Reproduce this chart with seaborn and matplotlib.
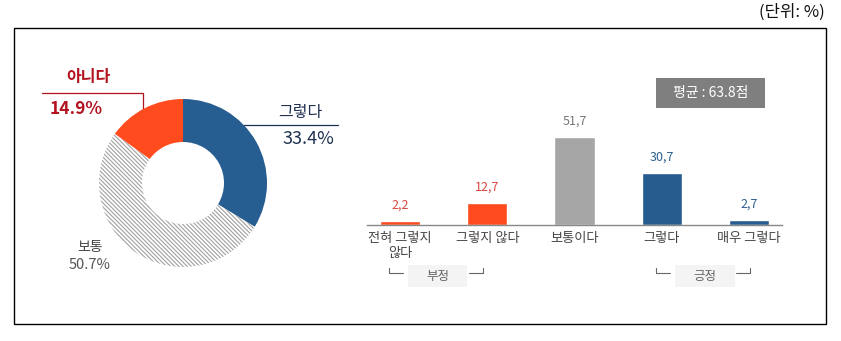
import matplotlib
matplotlib.use("Agg")
import matplotlib.pyplot as plt
from matplotlib.patches import Rectangle
import seaborn as sns
import pandas as pd

# ---- data ----
pie_labels = ["그렇다", "보통", "아니다"]
pie_values = [33.4, 50.7, 14.9]
pie_colors = ["#275e92", "#ffffff", "#ff4b1e"]

bar_categories = ["전혀 그렇지\n않다", "그렇지 않다", "보통이다", "그렇다", "매우 그렇다"]
bar_values = [2.2, 12.7, 51.7, 30.7, 2.7]
bar_colors = ["#ff4b1e", "#ff4b1e", "#a6a6a6", "#265d8e", "#265d8e"]
value_colors = ["#d9483e", "#d9483e", "#777777", "#2c5f8f", "#2c5f8f"]
group_labels = ["부정", "긍정"]
mean_text = "평균 : 63.8점"
unit_text = "(단위: %)"

sns.set_theme(style="white")
plt.rcParams["font.family"] = ["Noto Sans CJK KR", "DejaVu Sans"]
plt.rcParams["hatch.linewidth"] = 0.8

W, H = 841, 341
fig = plt.figure(figsize=(W / 100, H / 100), dpi=100)

# overlay in pixel coordinates
ov = fig.add_axes([0, 0, 1, 1])
ov.set_xlim(0, W)
ov.set_ylim(H, 0)
ov.axis("off")

ov.add_patch(Rectangle((14, 28), 812, 296, fill=False, ec="black", lw=1.0))
ov.text(825, 12, unit_text, ha="right", va="center", fontsize=12, color="#111111")

# donut labels
red = "#b3121f"
navy = "#1f3050"
ov.text(88, 77, pie_labels[2], ha="center", va="center", fontsize=11.5, color=red, fontweight="bold")
ov.plot([42, 143, 143], [93, 93, 110], color=red, lw=0.9)
ov.text(76, 109, f"{pie_values[2]}%", ha="center", va="center", fontsize=12.5, color=red, fontweight="bold")
ov.text(300, 112, pie_labels[0], ha="center", va="center", fontsize=11.5, color=navy)
ov.plot([243, 338], [125, 125], color=navy, lw=0.9)
ov.text(308, 139, f"{pie_values[0]}%", ha="center", va="center", fontsize=13, color=navy)
ov.text(90, 247, pie_labels[1], ha="center", va="center", fontsize=10, color="#444444")
ov.text(90, 265, f"{pie_values[1]}%", ha="center", va="center", fontsize=10.5, color="#555555")

# mean box
ov.add_patch(Rectangle((656, 78), 109, 30, fc="#7f7f7f", ec="none"))
ov.text(710.5, 93, mean_text, ha="center", va="center", fontsize=10, color="white")

# group brackets
bc = "#666666"
for (lx, bx0, bx1, rx), lab in zip([(389, 408, 467, 483), (656, 675, 735, 750)], group_labels):
    ov.plot([lx, lx, lx + 14], [268, 273, 273], color=bc, lw=0.8)
    ov.plot([rx - 14, rx, rx], [273, 273, 268], color=bc, lw=0.8)
    ov.add_patch(Rectangle((bx0, 265), bx1 - bx0, 22, fc="#f4f4f4", ec="none"))
    ov.text((bx0 + bx1) / 2, 276.5, lab, ha="center", va="center", fontsize=9, color="#666666")

# donut
cx, cy, r = 183, 183, 84
axp = fig.add_axes([(cx - r) / W, (H - cy - r) / H, 2 * r / W, 2 * r / H])
wedges, _ = axp.pie(pie_values, colors=pie_colors, startangle=90, counterclock=False,
                    radius=1, wedgeprops=dict(width=(84 - 41) / 84, linewidth=0))
wedges[1].set_hatch("\\" * 8)
wedges[1].set_edgecolor("#a0a0a0")
wedges[1].set_linewidth(0)
axp.set_xlim(-1, 1)
axp.set_ylim(-1, 1)
axp.set_aspect("equal")
axp.axis("off")

# bar chart
x0, x1, ybase = 367, 782, 225
ymax = 60
ppu = 1.70
axb = fig.add_axes([x0 / W, (H - ybase) / H, (x1 - x0) / W, ymax * ppu / H])
axb.patch.set_alpha(0)
df = pd.DataFrame({"cat": bar_categories, "val": bar_values})
sns.barplot(data=df, x="cat", y="val", hue="cat", palette=bar_colors, width=0.46,
            legend=False, ax=axb, saturation=1)
axb.set_xlim(-0.38, 4.38)
axb.set_ylim(0, ymax)
for s in ["top", "right", "left"]:
    axb.spines[s].set_visible(False)
axb.spines["bottom"].set_color("#888888")
axb.spines["bottom"].set_linewidth(1.0)
axb.set_yticks([])
axb.set_xlabel("")
axb.set_ylabel("")
axb.set_xticks(range(len(bar_categories)))
axb.set_xticklabels(bar_categories, fontsize=9.5, color="#444444", linespacing=1.25, va="top")
axb.tick_params(axis="x", which="major", length=0, pad=5)
axb.set_xticks([-0.38, 0.5, 1.5, 2.5, 3.5, 4.38], minor=True)
axb.tick_params(axis="x", which="minor", direction="in", length=4, width=0.8, color="#888888")
for i, (v, c) in enumerate(zip(bar_values, value_colors)):
    axb.annotate(f"{v}".replace(".", ","), (i, v), xytext=(0, 11.5), textcoords="offset points",
                 ha="center", va="center", fontsize=9, color=c, annotation_clip=False)

fig.savefig("out.png", dpi=100)
